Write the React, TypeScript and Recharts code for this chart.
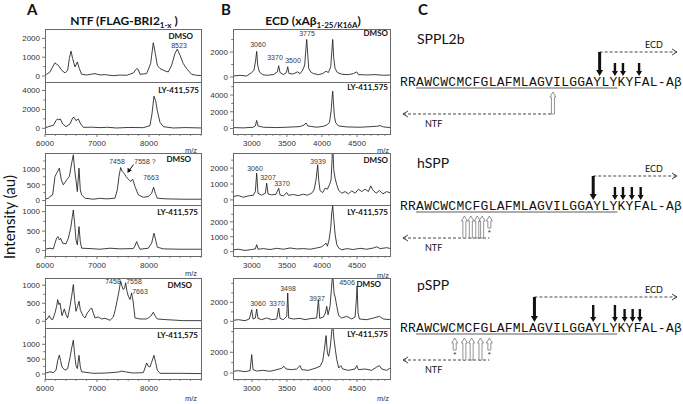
import React from 'react';
import { LineChart, Line, XAxis, YAxis } from 'recharts';

type Pt = [number, number];

// ---- Panel A: NTF spectra (m/z, intensity) ----
const ntfDmso1: Pt[] = [
  [6000, 36], [6032, 89], [6096, 214], [6147, 482], [6192, 697], [6224, 625], [6256, 571],
  [6321, 304], [6385, 161], [6436, 304], [6468, 929], [6500, 1322], [6532, 929], [6577, 482],
  [6622, 750], [6660, 393], [6705, 89], [6801, 54], [6880, 90], [6962, 125], [7058, 54],
  [7150, 70], [7314, 18], [7450, 50], [7570, 36], [7699, 161], [7763, 393], [7795, 339],
  [7827, 89], [7955, 125], [8032, 661], [8083, 1768], [8122, 1197], [8160, 571], [8212, 393],
  [8308, 268], [8372, 214], [8436, 571], [8500, 1197], [8545, 1429], [8596, 1107], [8660, 661],
  [8724, 393], [8820, 89], [8917, 36], [9020, 18],
];
const ntfLy1: Pt[] = [
  [6000, 35], [6064, 177], [6160, 319], [6212, 814], [6237, 991], [6269, 885], [6295, 991],
  [6340, 460], [6404, 177], [6481, 460], [6532, 1097], [6558, 1168], [6596, 814], [6641, 991],
  [6686, 460], [6737, 106], [6900, 120], [7058, 71], [7200, 110], [7378, 35], [7600, 90],
  [7891, 71], [8019, 283], [8058, 1522], [8096, 3398], [8128, 2938], [8160, 1876], [8212, 637],
  [8276, 177], [8468, 35], [8700, 80], [9020, 35],
];
const ntfDmso2: Pt[] = [
  [6000, 42], [6064, 74], [6096, 126], [6147, 179], [6192, 758], [6224, 863], [6276, 1021],
  [6314, 653], [6353, 495], [6417, 653], [6468, 758], [6513, 1179], [6545, 1443], [6570, 969],
  [6596, 653], [6622, 284], [6654, 1021], [6679, 337], [6705, 179], [6769, 74], [6929, 42],
  [7050, 70], [7186, 53], [7346, 74], [7391, 337], [7423, 758], [7455, 1042], [7487, 916],
  [7519, 863], [7558, 758], [7603, 674], [7648, 600], [7686, 674], [7731, 442], [7795, 179],
  [7891, 105], [7987, 126], [8051, 232], [8090, 421], [8122, 232], [8160, 74], [8340, 53],
  [8660, 42], [9020, 42],
];
const ntfLy2: Pt[] = [
  [6000, 34], [6096, 60], [6160, 43], [6192, 188], [6224, 316], [6250, 359], [6276, 274],
  [6301, 316], [6340, 188], [6404, 171], [6449, 316], [6494, 573], [6526, 872], [6545, 1043],
  [6570, 701], [6596, 274], [6622, 145], [6654, 616], [6679, 231], [6705, 60], [6865, 51],
  [7058, 34], [7250, 60], [7442, 43], [7699, 51], [7731, 120], [7763, 231], [7795, 120],
  [7827, 34], [7987, 60], [8051, 188], [8096, 445], [8128, 274], [8160, 86], [8276, 43],
  [8596, 34], [9020, 34],
];
const ntfDmso3: Pt[] = [
  [6000, 28], [6045, 65], [6083, 157], [6115, 65], [6147, 46], [6192, 232], [6224, 417],
  [6244, 602], [6269, 463], [6288, 509], [6327, 157], [6372, 343], [6404, 185], [6436, 93],
  [6481, 417], [6513, 695], [6545, 1019], [6570, 602], [6596, 278], [6628, 417], [6654, 556],
  [6679, 324], [6705, 232], [6737, 139], [6769, 93], [6814, 232], [6865, 324], [6897, 370],
  [6929, 232], [6961, 93], [7026, 120], [7090, 65], [7154, 83], [7250, 28], [7314, 120],
  [7353, 324], [7378, 509], [7417, 787], [7455, 1111], [7481, 972], [7506, 880], [7532, 926],
  [7551, 1065], [7577, 833], [7603, 695], [7635, 602], [7667, 787], [7699, 509], [7731, 93],
  [7827, 65], [7955, 65], [8032, 139], [8083, 250], [8122, 139], [8160, 65], [8340, 46],
  [8660, 19], [9020, 19],
];
const ntfLy3: Pt[] = [
  [6000, 21], [6096, 74], [6160, 43], [6212, 128], [6244, 447], [6276, 638], [6301, 447],
  [6327, 234], [6385, 128], [6436, 181], [6481, 553], [6513, 872], [6545, 1138], [6570, 660],
  [6596, 287], [6622, 181], [6654, 628], [6679, 234], [6705, 74], [6929, 21], [7186, 32],
  [7410, 64], [7474, 96], [7570, 64], [7699, 32], [7891, 43], [7930, 234], [7955, 372],
  [7987, 255], [8019, 234], [8051, 394], [8096, 628], [8128, 394], [8160, 128], [8212, 21],
  [8596, 21], [9020, 11],
];

// ---- Panel B: ECD spectra ----
const ecdDmso1: Pt[] = [
  [2730, 82], [2830, 137], [2925, 82], [2997, 356], [3030, 548], [3054, 1370], [3068, 2055],
  [3082, 959], [3106, 411], [3154, 192], [3211, 137], [3306, 192], [3363, 411], [3382, 904],
  [3401, 356], [3449, 192], [3492, 356], [3511, 822], [3530, 274], [3592, 247], [3649, 411],
  [3687, 274], [3725, 548], [3753, 959], [3768, 2055], [3782, 3014], [3797, 1781], [3811, 685],
  [3839, 411], [3877, 274], [3949, 192], [4010, 274], [4058, 466], [4091, 356], [4125, 822],
  [4144, 2329], [4153, 3014], [4168, 1507], [4187, 685], [4220, 356], [4282, 219], [4377, 192],
  [4448, 274], [4496, 411], [4520, 192], [4639, 164], [4758, 192], [4877, 137], [4982, 164],
];
const ecdLy1: Pt[] = [
  [2730, 116], [2878, 78], [3020, 155], [3049, 310], [3068, 970], [3087, 310], [3163, 155],
  [3354, 116], [3497, 155], [3687, 233], [3744, 427], [3773, 660], [3797, 310], [3925, 155],
  [4020, 272], [4068, 427], [4106, 698], [4130, 2056], [4144, 3608], [4153, 4462], [4163, 3220],
  [4177, 1474], [4196, 698], [4234, 310], [4353, 194], [4544, 155], [4782, 272], [4830, 349],
  [4877, 194], [4982, 116],
];
const ecdDmso2: Pt[] = [
  [2730, 210], [2806, 274], [2878, 168], [2949, 253], [3020, 295], [3049, 526], [3068, 1684],
  [3087, 421], [3139, 295], [3192, 421], [3211, 1053], [3230, 379], [3282, 316], [3344, 358],
  [3382, 737], [3401, 316], [3449, 253], [3497, 463], [3520, 295], [3592, 337], [3663, 274],
  [3734, 358], [3792, 295], [3853, 421], [3887, 632], [3915, 1263], [3939, 2210], [3953, 1263],
  [3972, 589], [4010, 463], [4044, 737], [4077, 674], [4106, 947], [4130, 1263], [4144, 2526],
  [4153, 3579], [4168, 1895], [4187, 1368], [4211, 947], [4239, 589], [4282, 421], [4330, 526],
  [4377, 379], [4425, 568], [4472, 421], [4520, 674], [4568, 526], [4615, 674], [4663, 526],
  [4696, 884], [4725, 632], [4772, 421], [4820, 589], [4868, 379], [4925, 526], [4982, 421],
];
const ecdLy2: Pt[] = [
  [2730, 122], [2806, 163], [2901, 82], [2997, 143], [3049, 184], [3068, 469], [3087, 163],
  [3163, 204], [3258, 143], [3354, 224], [3449, 163], [3544, 245], [3639, 184], [3734, 204],
  [3830, 163], [3925, 245], [3996, 326], [4030, 449], [4058, 571], [4077, 367], [4101, 775],
  [4125, 1591], [4139, 2611], [4153, 3060], [4168, 2203], [4187, 1183], [4211, 469], [4239, 245],
  [4282, 122], [4353, 204], [4448, 143], [4544, 224], [4639, 163], [4734, 245], [4782, 326],
  [4830, 204], [4925, 265], [4982, 204],
];
const ecdDmso3: Pt[] = [
  [2730, 105], [2806, 176], [2901, 70], [2963, 246], [2997, 1229], [3016, 246], [3049, 351],
  [3068, 1299], [3087, 316], [3139, 176], [3211, 351], [3282, 176], [3354, 246], [3382, 1404],
  [3401, 316], [3449, 176], [3497, 527], [3511, 2984], [3525, 351], [3592, 246], [3687, 316],
  [3758, 176], [3830, 281], [3925, 351], [3949, 2282], [3968, 316], [4020, 456], [4049, 878],
  [4068, 1580], [4087, 702], [4115, 1580], [4134, 3335], [4153, 5090], [4172, 2984], [4191, 2457],
  [4211, 1580], [4239, 597], [4282, 351], [4353, 527], [4425, 246], [4472, 456], [4491, 2282],
  [4501, 3686], [4515, 878], [4534, 246], [4639, 176], [4734, 351], [4820, 527], [4877, 246],
  [4982, 176],
];
const ecdLy3: Pt[] = [
  [2730, 162], [2806, 226], [2901, 129], [2973, 226], [2997, 1777], [3016, 323], [3068, 194],
  [3163, 258], [3258, 162], [3354, 323], [3425, 452], [3458, 646], [3487, 388], [3568, 323],
  [3639, 388], [3687, 711], [3711, 323], [3806, 258], [3901, 452], [3972, 646], [4010, 1131],
  [4034, 2261], [4058, 3618], [4077, 1938], [4096, 1615], [4120, 2584], [4139, 4038], [4153, 4684],
  [4172, 3230], [4191, 2261], [4211, 1292], [4239, 485], [4268, 711], [4296, 388], [4377, 258],
  [4472, 388], [4496, 711], [4520, 323], [4615, 388], [4710, 258], [4782, 581], [4820, 711],
  [4853, 388], [4925, 258], [4972, 485],
];

// axis ticks
const ntfXMajor = [6000, 7000, 8000];
const ntfXMinor = [6200, 6400, 6600, 6800, 7200, 7400, 7600, 7800, 8200, 8400, 8600, 8800, 9000];
const ecdXMajor = [3000, 3500, 4000, 4500];
const ecdXMinor = [2800, 2900, 3100, 3200, 3300, 3400, 3600, 3700, 3800, 3900, 4100, 4200, 4300, 4400, 4600, 4700, 4800, 4900];

// ---- Panel C ----
const sequence = 'RRAWCWCMCFGLAFMLAGVILGGAYLYKYFAL-Aβ';
const proteases = ['SPPL2b', 'hSPP', 'pSPP'];
const ecdMainSite = [24.8, 24.0, 16.7];
const ecdMinorSites = [[26.7, 27.7, 29.7], [26.7, 27.7, 28.8, 29.9], [24.0, 26.7, 27.9, 28.9, 29.8]];
const ntfSites = [[19.0], [8.0, 8.8, 9.6, 10.2], [8.0, 8.9, 10.0]];
const ntfStarSites = [[], [11.1], [6.8, 11.1]];

type Col = { chartLeft: number; yW: number; plotLeft: number; plotW: number; xDomain: [number, number]; major: number[]; minor: number[] };
const colA: Col = { chartLeft: 0, yW: 40, plotLeft: 45, plotW: 157, xDomain: [6000, 9020], major: ntfXMajor, minor: ntfXMinor };
const colB: Col = { chartLeft: 195, yW: 33, plotLeft: 233, plotW: 158, xDomain: [2730, 4985], major: ecdXMajor, minor: ecdXMinor };

const rows = [
  { top: 29, mid: 82, bottom: 134 },
  { top: 153, mid: 205, bottom: 256 },
  { top: 278, mid: 328, bottom: 379 },
];

const panels = [
  { col: colA, row: 0, low: false, data: ntfDmso1, dom: [-320, 2500], major: [0, 1000, 2000], minor: [500, 1500] },
  { col: colA, row: 0, low: true, data: ntfLy1, dom: [-600, 4900], major: [0, 2000, 4000], minor: [1000, 3000] },
  { col: colA, row: 1, low: false, data: ntfDmso2, dom: [-140, 1500], major: [0, 500, 1000], minor: [250, 750, 1250] },
  { col: colA, row: 1, low: true, data: ntfLy2, dom: [-140, 1170], major: [0, 500, 1000], minor: [250, 750] },
  { col: colA, row: 2, low: false, data: ntfDmso3, dom: [-185, 1200], major: [0, 500, 1000], minor: [250, 750] },
  { col: colA, row: 2, low: true, data: ntfLy3, dom: [-170, 1550], major: [0, 500, 1000], minor: [250, 750, 1250] },
  { col: colB, row: 0, low: false, data: ecdDmso1, dom: [-400, 3850], major: [0, 2000], minor: [1000, 3000] },
  { col: colB, row: 0, low: true, data: ecdLy1, dom: [-650, 5550], major: [0, 2000, 4000], minor: [1000, 3000, 5000] },
  { col: colB, row: 1, low: false, data: ecdDmso2, dom: [-320, 2950], major: [0, 1000, 2000], minor: [500, 1500, 2500] },
  { col: colB, row: 1, low: true, data: ecdLy2, dom: [-290, 3120], major: [0, 1000, 2000], minor: [500, 1500, 2500] },
  { col: colB, row: 2, low: false, data: ecdDmso3, dom: [-700, 4560], major: [0, 2000], minor: [1000, 3000, 4000] },
  { col: colB, row: 2, low: true, data: ecdLy3, dom: [-580, 4350], major: [0, 2000], minor: [1000, 3000, 4000] },
];

const tickFont = 'Liberation Sans, Arial, sans-serif';
const labelFont = 'Lato, "Open Sans", sans-serif';

const YTick = ({ x, y, payload, majors }: any) => {
  const major = majors.includes(payload.value);
  const ax = x + 5;
  return (
    <g>
      <line x1={ax - (major ? 3 : 1.8)} x2={ax} y1={y} y2={y} stroke="#555" strokeWidth={0.8} />
      {major && (
        <text x={x} y={y + 2.8} textAnchor="end" fontSize={8} fill="#333" fontFamily={tickFont}>
          {payload.value}
        </text>
      )}
    </g>
  );
};

const XTick = ({ x, y, payload, majors }: any) => {
  const major = majors.includes(payload.value);
  const ay = y - 5;
  return (
    <g>
      <line x1={x} x2={x} y1={ay} y2={ay + (major ? 3 : 1.8)} stroke="#555" strokeWidth={0.8} />
      {major && (
        <text x={x} y={y + 7} textAnchor="middle" fontSize={8} fill="#333" fontFamily={tickFont}>
          {payload.value}
        </text>
      )}
    </g>
  );
};

function Spectrum({ p }: { p: (typeof panels)[number] }) {
  const { col } = p;
  const r = rows[p.row];
  const top = p.low ? r.mid : r.top;
  const plotH = p.low ? r.bottom - r.mid : r.mid - r.top;
  const axisH = p.low ? 18 : 0;
  const ml = col.plotLeft - col.chartLeft - col.yW;
  const width = col.plotLeft - col.chartLeft + col.plotW + 4;
  const rowsData = p.data.map(([mz, v]) => ({ mz, v }));
  const yTicks = [...p.major, ...p.minor].sort((a, b) => a - b);
  const xTicks = [...col.major, ...col.minor].sort((a, b) => a - b);
  return (
    <>
      <div style={{ position: 'absolute', left: col.chartLeft, top }}>
        <LineChart width={width} height={plotH + axisH} data={rowsData} margin={{ top: 0, right: 4, bottom: 0, left: ml }}>
          <XAxis
            dataKey="mz"
            type="number"
            domain={col.xDomain}
            allowDataOverflow
            hide={!p.low}
            height={axisH}
            ticks={xTicks}
            interval={0}
            axisLine={false}
            tickLine={false}
            tickSize={3}
            tickMargin={2}
            tick={(t: any) => <XTick {...t} majors={col.major} />}
          />
          <YAxis
            type="number"
            domain={p.dom}
            allowDataOverflow
            width={col.yW}
            ticks={yTicks}
            interval={0}
            axisLine={false}
            tickLine={false}
            tickSize={3}
            tickMargin={2}
            tick={(t: any) => <YTick {...t} majors={p.major} />}
          />
          <Line dataKey="v" type="linear" dot={false} stroke="#1e1e1e" strokeWidth={0.85} isAnimationActive={false} />
        </LineChart>
      </div>
      <div
        style={{
          position: 'absolute',
          left: col.plotLeft,
          top,
          width: col.plotW,
          height: plotH + 1,
          border: '1px solid #6a6a6a',
          boxSizing: 'border-box',
          pointerEvents: 'none',
        }}
      />
    </>
  );
}

const peakLabels: [string, number, number][] = [
  ['8523', 179, 46],
  ['7458', 117, 162], ['7558 ?', 145, 162], ['7663', 151, 178],
  ['7458', 113, 282], ['7558', 134, 282], ['7663', 140, 292],
  ['3060', 258, 45], ['3370', 275, 58], ['3500', 293, 61], ['3775', 307, 34],
  ['3939', 318, 162], ['3060', 255, 169], ['3207', 268, 178], ['3370', 282, 184],
  ['4506', 347, 283], ['3498', 288, 289], ['3937', 317, 299], ['3060', 258, 304], ['3370', 277, 304],
];

const condLabels: [string, number, number][] = [
  ['DMSO', 193, 39], ['LY-411,575', 199, 93],
  ['DMSO', 191, 162], ['LY-411,575', 198, 215],
  ['DMSO', 192, 288], ['LY-411,575', 198, 338],
  ['DMSO', 388, 36], ['LY-411,575', 388, 90],
  ['DMSO', 388, 163], ['LY-411,575', 388, 215],
  ['DMSO', 381, 287], ['LY-411,575', 388, 337],
];

const mzLabels: [number, number][] = [[191, 150], [383, 150], [191, 273], [383, 275], [191, 398], [383, 398]];

const seqX0 = 400;
const pitch = 8.05;
const siteX = (s: number) => seqX0 + s * pitch;

function downArrow(x: number, y1: number, y2: number, w: number, hw: number, hl: number) {
  return `M${x - w / 2},${y1} L${x + w / 2},${y1} L${x + w / 2},${y2 - hl} L${x + hw / 2},${y2 - hl} L${x},${y2} L${x - hw / 2},${y2 - hl} L${x - w / 2},${y2 - hl} Z`;
}
function upArrow(x: number, y1: number, y2: number, w: number, hw: number, hl: number) {
  return `M${x},${y1} L${x + hw / 2},${y1 + hl} L${x + w / 2},${y1 + hl} L${x + w / 2},${y2} L${x - w / 2},${y2} L${x - w / 2},${y1 + hl} L${x - hw / 2},${y1 + hl} Z`;
}

const seqBase = [86, 210, 332];
const ecdLineY = [52, 176, 297];

function Cleavage({ i }: { i: number }) {
  const base = seqBase[i];
  const ecdY = ecdLineY[i];
  const ntfY = base + 28;
  const mainX = siteX(ecdMainSite[i]);
  const ntfAll = [...ntfSites[i], ...ntfStarSites[i]];
  const ntfRight = siteX(Math.max(...ntfAll));
  return (
    <g>
      <text x={417} y={base - 42} fontSize={14} fontFamily={labelFont} fill="#111">{proteases[i]}</text>
      {/* ECD */}
      <text x={645} y={ecdY - 4} fontSize={9} fontFamily={labelFont} fill="#111">ECD</text>
      <line x1={mainX} x2={677} y1={ecdY} y2={ecdY} stroke="#333" strokeWidth={0.9} strokeDasharray="3 2" />
      <polyline points={`${672},${ecdY - 3} ${677},${ecdY} ${672},${ecdY + 3}`} fill="none" stroke="#333" strokeWidth={0.9} />
      <path d={downArrow(mainX, ecdY, base - 10, 3, 7, 6)} fill="#111" />
      {ecdMinorSites[i].map((s, k) => (
        <path key={k} d={downArrow(siteX(s), i === 2 && k < 2 ? base - 27 : base - 23, base - 10, 2.4, 6, 5)} fill="#111" />
      ))}
      {/* sequence */}
      <text x={seqX0} y={base} fontSize={13} fontFamily="Liberation Mono, monospace" fill="#111" textLength={sequence.length * pitch} lengthAdjust="spacing">
        {sequence}
      </text>
      <line x1={siteX(2)} x2={siteX(27)} y1={base + 2} y2={base + 2} stroke="#333" strokeWidth={0.8} />
      {/* NTF */}
      <line x1={403} x2={ntfRight} y1={ntfY} y2={ntfY} stroke="#333" strokeWidth={0.9} strokeDasharray="3 2" />
      <polyline points={`${408},${ntfY - 3} ${403},${ntfY} ${408},${ntfY + 3}`} fill="none" stroke="#333" strokeWidth={0.9} />
      <text x={425} y={ntfY + 13} fontSize={9} fontFamily={labelFont} fill="#111">NTF</text>
      {ntfSites[i].map((s, k) => (
        <path key={k} d={upArrow(siteX(s), base + 6, ntfY, 3, 6, 5)} fill="#fff" stroke="#666" strokeWidth={0.7} />
      ))}
      {ntfStarSites[i].map((s, k) => (
        <g key={k}>
          <path d={upArrow(siteX(s), base + 6, base + 18, 3, 6, 5)} fill="#fff" stroke="#666" strokeWidth={0.7} />
          <text x={siteX(s)} y={base + 25} textAnchor="middle" fontSize={8} fill="#333" fontFamily={tickFont}>*</text>
        </g>
      ))}
    </g>
  );
}

export default function App() {
  return (
    <div style={{ position: 'absolute', left: 0, top: 0, width: 683, height: 404, background: '#fff', overflow: 'hidden' }}>
      {panels.map((p, i) => (
        <Spectrum key={i} p={p} />
      ))}
      <svg width={683} height={404} style={{ position: 'absolute', left: 0, top: 0, pointerEvents: 'none' }}>
        {/* panel letters and titles */}
        <text x={27} y={15} fontSize={15} fontWeight="bold" fontFamily={labelFont} fill="#111">A</text>
        <text x={221} y={15} fontSize={15} fontWeight="bold" fontFamily={labelFont} fill="#111">B</text>
        <text x={418} y={15} fontSize={15} fontWeight="bold" fontFamily={labelFont} fill="#111">C</text>
        <text x={124} y={25} textAnchor="middle" fontSize={12} fontWeight="bold" fontFamily={labelFont} fill="#111">
          NTF (FLAG-BRI2<tspan fontSize={8} dy={3}>1-x</tspan><tspan dy={-3}> )</tspan>
        </text>
        <text x={313} y={25} textAnchor="middle" fontSize={12} fontWeight="bold" fontFamily={labelFont} fill="#111">
          ECD (xAβ<tspan fontSize={8} dy={3}>1-25/K16A</tspan><tspan dy={-3}>)</tspan>
        </text>
        <text x={15} y={217} transform="rotate(-90 15 217)" textAnchor="middle" fontSize={15} fontFamily={labelFont} fill="#111">
          Intensity (au)
        </text>
        {condLabels.map(([t, x, y], i) => (
          <text key={`c${i}`} x={x} y={y} textAnchor="end" fontSize={8} fontWeight="bold" fontFamily={labelFont} fill="#111">{t}</text>
        ))}
        {peakLabels.map(([t, x, y], i) => (
          <text key={`p${i}`} x={x} y={y + 2.4} textAnchor="middle" fontSize={7} fontFamily={tickFont} fill="#3a3a3a">{t}</text>
        ))}
        {mzLabels.map(([x, y], i) => (
          <text key={`m${i}`} x={x} y={y + 2.5} textAnchor="middle" fontSize={7.5} fontFamily={tickFont} fill="#333">m/z</text>
        ))}
        {/* arrow pointing at 7558 */}
        <line x1={133.5} y1={164.5} x2={129.5} y2={170} stroke="#111" strokeWidth={1} />
        <path d="M127.5,173 L127.6,167.8 L131.8,170.5 Z" fill="#111" />
        {proteases.map((_, i) => (
          <Cleavage key={i} i={i} />
        ))}
      </svg>
    </div>
  );
}
